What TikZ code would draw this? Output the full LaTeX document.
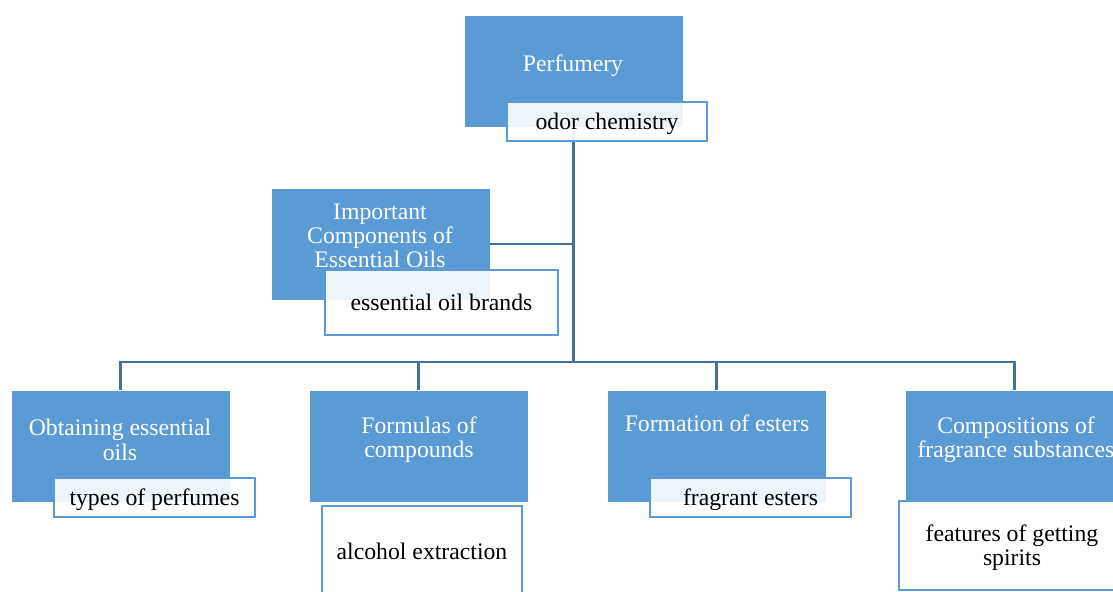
\documentclass[tikz,border=0pt]{standalone}
\usepackage{fontspec}
\setmainfont{Liberation Serif}
\usepackage{tikz}
\usetikzlibrary{positioning, calc}

\definecolor{boxblue}{HTML}{5B9BD5}
\definecolor{lineblue}{HTML}{41719C}

\begin{document}
\begin{tikzpicture}[
    x=0.02cm, y=-0.02cm,
    font=\fontsize{13.5}{13.8}\selectfont,
    topic/.style={rectangle, fill=boxblue, draw=white, line width=0.3pt, minimum width=4.38cm, minimum height=2.24cm, inner sep=0pt},
    topictext/.style={align=center, text=white, inner sep=0pt},
    note/.style={rectangle, draw=boxblue, line width=1.1pt, fill=white, fill opacity=0.9, text opacity=1, align=center, inner sep=0pt, text depth=0pt},
    link/.style={draw=lineblue, line width=1.4pt}
]
\useasboundingbox (0,0) rectangle (1113,592);
\clip (0,0) rectangle (1113,592);

% Nodes
\node[topic] (perf) at (573.5,71) {};
\node[topic] (imp) at (380.5,244) {};
\node[topic] (obt) at (120.5,446.5) {};
\node[topic] (form) at (418.5,446.5) {};
\node[topic] (est) at (716.5,446.5) {};
\node[topic] (comp) at (1014.5,446.5) {};

\node[topictext] (perf-t) at (573,66) {Perfumery};
\node[topictext] (imp-t) at (380,236) {Important\\Components of\\Essential Oils};
\node[topictext] (obt-t) at (120,440) {Obtaining essential\\oils};
\node[topictext] (form-t) at (419,440) {Formulas of\\compounds};
\node[topictext] (est-t) at (717,423) {Formation of esters};
\node[topictext] (comp-t) at (1016,440) {Compositions of\\fragrance substances};

% Edges
\coordinate (bus) at (perf.south |- 0,362);
\draw[link] (perf.south) -- (bus);
\draw[link] (imp.east) -- (imp.east -| perf.south);
\draw[link] (bus) -| (obt.north);
\draw[link] (bus) -| (form.north);
\draw[link] (bus) -| (est.north);
\draw[link] (bus) -| (comp.north);

% Notes
\node[note, minimum width=4.0cm, minimum height=0.78cm] (perf-n) at (607,121.5) {odor chemistry};
\node[note, minimum width=4.66cm, minimum height=1.3cm] (imp-n) at (441.5,302.5) {essential oil brands};
\node[note, minimum width=4.02cm, minimum height=0.78cm] (obt-n) at (154.5,497.5) {types of perfumes};
\node[note, minimum width=4.0cm, minimum height=1.8cm] (form-n) at (422,551) {alcohol extraction};
\node[note, minimum width=4.02cm, minimum height=0.78cm] (est-n) at (750.5,497.5) {fragrant esters};
\node[note, minimum width=4.52cm, minimum height=1.78cm] (comp-n) at (1012,545.5) {features of getting\\spirits};

\end{tikzpicture}
\end{document}
